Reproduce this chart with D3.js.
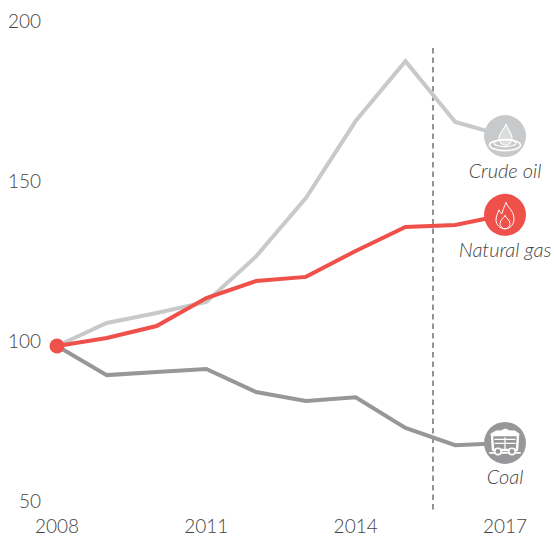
<!DOCTYPE html>
<html><head><meta charset="utf-8">
<script src="https://cdn.jsdelivr.net/npm/d3@7"></script>
<style>html,body{margin:0;padding:0;background:#fff}svg{display:block}text{font-family:Lato,"Open Sans",sans-serif;font-weight:300;fill:#444}</style>
</head><body><svg id="c" width="554" height="543"></svg>
<script>
const years=[2008,2009,2010,2011,2012,2013,2014,2015,2016,2017];
const crudeOil=[100,107.2,110.3,113.75,128,146.25,170.3,189,170,165.6];
const naturalGas=[100,102.5,106.25,115,120.3,121.6,129.7,137.2,137.8,141];
const coal=[100,90.9,91.9,92.8,85.6,82.8,84,74.4,69,69.7];
const xTicks=[2008,2011,2014,2017];
const yTicks=[50,100,150,200];
const svg=d3.select("#c");
const x=d3.scaleLinear().domain([2008,2017]).range([57,505]);
const y=d3.scaleLinear().domain([50,200]).range([506,26]);
const line=d3.line().x((d,i)=>x(years[i])).y(d=>y(d));
svg.append("line").attr("x1",433).attr("x2",433).attr("y1",48).attr("y2",511)
  .attr("stroke","#666").attr("stroke-width",1.4).attr("stroke-dasharray","5.5 4");
const series=[[crudeOil,"#c8c9ca"],[coal,"#97979a"],[naturalGas,"#f0504a"]];
series.forEach(([v,c])=>svg.append("path").attr("d",line(v)).attr("fill","none").attr("stroke",c).attr("stroke-width",4).attr("stroke-linejoin","miter"));
svg.append("circle").attr("cx",x(2008)).attr("cy",y(100)).attr("r",7.5).attr("fill","#f0504a");
svg.selectAll(".yt").data(yTicks).join("text").attr("x",41).attr("y",d=>y(d)-5).attr("dy","0.35em")
  .attr("text-anchor","end").attr("font-size",19).text(d=>d);
svg.selectAll(".xt").data(xTicks).join("text").attr("x",d=>x(d)).attr("y",532.5)
  .attr("text-anchor","middle").attr("font-size",19).text(d=>d);
const ends=[[crudeOil,"#c8c9ca","Crude oil",178],[naturalGas,"#f0504a","Natural gas",257],[coal,"#97979a","Coal",483.5]];
ends.forEach(([v,c,name,ly])=>{
  svg.append("circle").attr("cx",x(2017)).attr("cy",y(v[9])).attr("r",21).attr("fill",c);
  svg.append("text").attr("x",x(2017)).attr("y",ly).attr("text-anchor","middle").attr("font-size",20).attr("font-style","italic").text(name);
});
// icons
const ic=(v)=>svg.append("g").attr("transform",`translate(${x(2017)},${y(v[9])})`).attr("fill","none").attr("stroke","#fff").attr("stroke-linejoin","round").attr("stroke-linecap","round");
const oil=ic(crudeOil).attr("stroke-width",1.1);
oil.append("path").attr("d","M1,-12 C3,-6 7,-3 7,2 C7,6 4,9 1,9 C-3,9 -6,6 -6,2 C-6,-3 -1,-6 1,-12Z").attr("fill","#fff").attr("fill-opacity",.35);
oil.append("ellipse").attr("cx",0).attr("cy",7).attr("rx",11).attr("ry",3.5);
oil.append("ellipse").attr("cx",0).attr("cy",9).attr("rx",15.5).attr("ry",5.5).attr("stroke-width",1.6);
const gas=ic(naturalGas).attr("stroke-width",1);
gas.append("path").attr("d","M1,-12 C2,-8 9,-4 9,4 C9,10 5,14 0,14 C-5,14 -9,10 -9,5 C-9,1 -7,-2 -6,-5 C-5,-3 -4,-1 -3,-1 C-2,-5 -1,-8 1,-12Z");
gas.append("path").attr("d","M0,1 C1,3 5,5 5,9 C5,11 3,14 0,14 C-3,14 -5,11 -5,9 C-5,5 -1,3 0,1Z");
const cart=ic(coal);
cart.append("path").attr("d","M-14,-9 L-9,-12 L-4,-12 L0,-14 L5,-12 L10,-12 L14,-9Z").attr("fill","#fff").attr("stroke-width",1);
cart.append("path").attr("d","M-13,-8 H13 L12,7 H-12Z").attr("stroke-width",2.4);
cart.append("path").attr("d","M-10,-3.5 H10 M-10,0.5 H10 M0,-5 V6").attr("stroke-width",1.3);
cart.append("path").attr("d","M-15,10 H15").attr("stroke-width",1.8);
[-7,7].forEach(d=>cart.append("circle").attr("cx",d).attr("cy",8.5).attr("r",3.2).attr("fill","#97979a").attr("stroke-width",1.6));
</script></body></html>
